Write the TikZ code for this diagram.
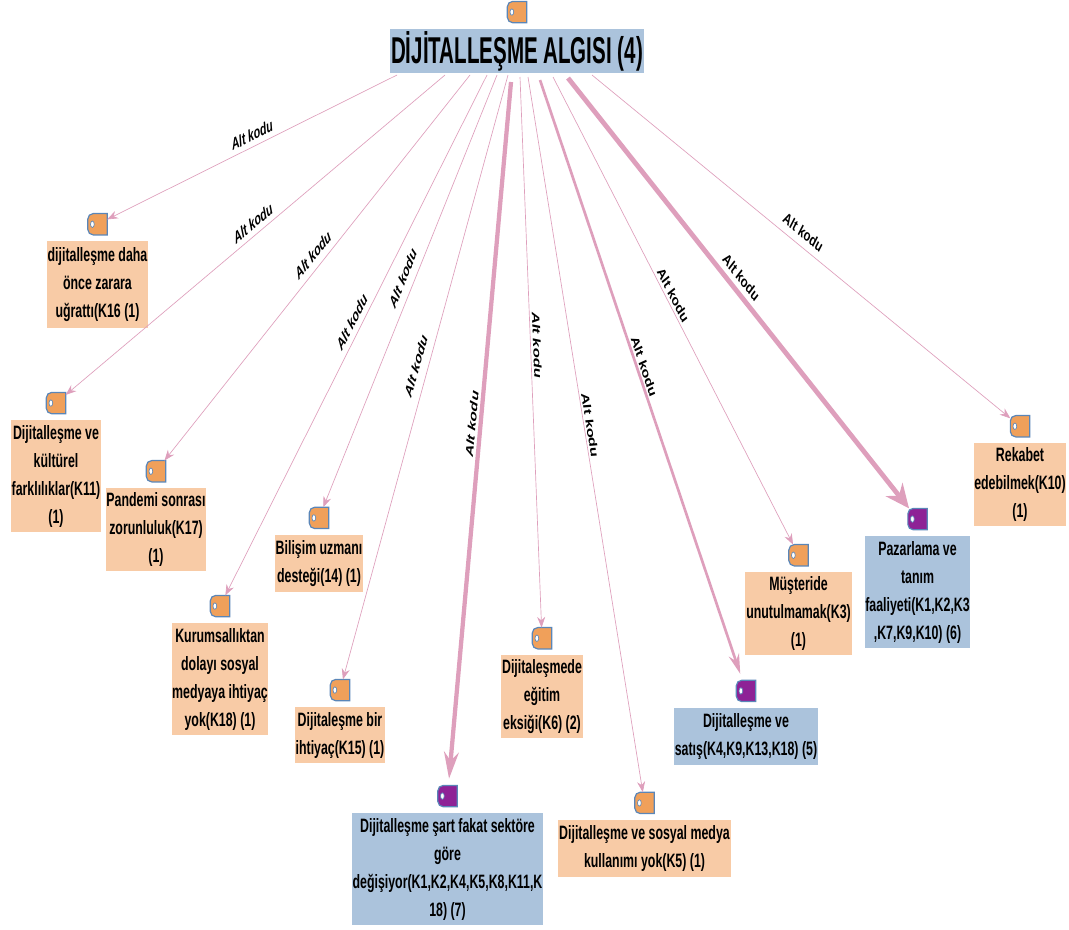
\documentclass[tikz,border=0pt]{standalone}
\usepackage{fontspec}
\setmainfont{Liberation Sans}[FakeStretch=0.64]
\newfontfamily\titlefont{Liberation Sans}[FakeStretch=0.55]
\newfontfamily\labelfont{Liberation Sans}
\usetikzlibrary{positioning, arrows.meta, calc}
\definecolor{peach}{HTML}{F8CBA6}
\definecolor{steel}{HTML}{ABC3DC}
\definecolor{linkpink}{HTML}{DE9FBC}
\definecolor{tagorange}{HTML}{F0A05A}
\definecolor{tagpurple}{HTML}{8E2296}
\definecolor{tagedge}{HTML}{5A86B8}
\tikzset{
	peachbox/.style={rectangle, fill=peach, inner sep=0pt, align=center, font=\fontsize{14.5}{21}\selectfont\bfseries},
	steelbox/.style={peachbox, fill=steel},
	tagnode/.style={rectangle, minimum width=12.5pt, minimum height=14pt, inner sep=0pt, outer sep=1pt},
	altlink/.style={draw=linkpink, line width=0.5pt, -{Stealth[length=8pt, width=6pt]}},
	midlink/.style={draw=linkpink, line width=2pt, shorten >=5pt, -{Stealth[length=15pt, width=8pt]}},
	widelink/.style={draw=linkpink, line width=3.2pt, shorten >=5pt, -{Stealth[length=20pt, width=11pt]}},
	biglink/.style={draw=linkpink, line width=3.6pt, -{Stealth[length=18pt, width=16pt]}},
	altlabel/.style={font=\labelfont\fontsize{8}{9}\selectfont\bfseries\itshape, inner sep=0pt, yscale=1.56},
}
\newcommand{\tagicon}[3]{
	\node[tagnode, above=4.5pt of #1] (#2) {};
	\filldraw[draw=tagedge, fill=#3, line width=0.9pt] (#2.north east) -- (#2.south east) [rounded corners=4pt] -- (#2.south west) -- (#2.north west) [sharp corners] -- cycle;
	\filldraw[draw=tagedge, fill=white, line width=0.5pt] ($(#2.west)+(3.4pt,0)$) ellipse (1.4pt and 2.4pt);
}
\begin{document}
\begin{tikzpicture}[x=0.75pt, y=0.75pt]
	\useasboundingbox (0,0) rectangle (1069,-929);
	
	\node[steelbox, minimum width=190.5pt, minimum height=33pt, font=\titlefont\fontsize{28}{30}\selectfont\bfseries] (root) at (517,-51) {DİJİTALLEŞME ALGISI (4)};
	
	\node[peachbox, minimum width=76pt, minimum height=65pt] (k16) at (97.5,-284.5) {dijitalleşme daha\\önce zarara\\uğrattı(K16 (1)};
	\node[peachbox, minimum width=67.5pt, minimum height=84pt] (k11) at (56,-476) {Dijitalleşme ve\\kültürel\\farklılıklar(K11)\\(1)};
	\node[peachbox, minimum width=75pt, minimum height=62pt] (k17) at (156,-529.5) {Pandemi sonrası\\zorunluluk(K17)\\(1)};
	\node[peachbox, minimum width=72pt, minimum height=84pt] (k18) at (220,-679) {Kurumsallıktan\\dolayı sosyal\\medyaya ihtiyaç\\yok(K18) (1)};
	\node[peachbox, minimum width=66pt, minimum height=43pt] (k14) at (319,-563.5) {Bilişim uzmanı\\desteği(14) (1)};
	\node[peachbox, minimum width=67.5pt, minimum height=42pt] (k15) at (340,-735) {Dijitaleşme bir\\ihtiyaç(K15) (1)};
	\node[peachbox, minimum width=61.5pt, minimum height=62pt] (k6) at (542,-696.5) {Dijitaleşmede\\eğitim\\eksiği(K6) (2)};
	\node[steelbox, minimum width=143pt, minimum height=84pt] (sektor) at (447.5,-869) {Dijitalleşme şart fakat sektöre\\göre\\değişiyor(K1,K2,K4,K5,K8,K11,K\\18) (7)};
	\node[peachbox, minimum width=130pt, minimum height=43pt] (k5) at (644.5,-848.5) {Dijitalleşme ve sosyal medya\\kullanımı yok(K5) (1)};
	\node[peachbox, minimum width=80pt, minimum height=62pt] (k3) at (798.5,-613.5) {Müşteride\\unutulmamak(K3)\\(1)};
	\node[steelbox, minimum width=108pt, minimum height=43pt] (satis) at (746,-736.5) {Dijitalleşme ve\\satış(K4,K9,K13,K18) (5)};
	\node[steelbox, minimum width=79pt, minimum height=84pt] (pazar) at (917.5,-592) {Pazarlama ve\\tanım\\faaliyeti(K1,K2,K3\\,K7,K9,K10) (6)};
	\node[peachbox, minimum width=69pt, minimum height=62pt] (k10) at (1020,-484.5) {Rekabet\\edebilmek(K10)\\(1)};
	
	\tagicon{root}{tag-root}{tagorange}
	\tagicon{k16}{tag-k16}{tagorange}
	\tagicon{k11}{tag-k11}{tagorange}
	\tagicon{k17}{tag-k17}{tagorange}
	\tagicon{k18}{tag-k18}{tagorange}
	\tagicon{k14}{tag-k14}{tagorange}
	\tagicon{k15}{tag-k15}{tagorange}
	\tagicon{k6}{tag-k6}{tagorange}
	\tagicon{sektor}{tag-sektor}{tagpurple}
	\tagicon{k5}{tag-k5}{tagorange}
	\tagicon{k3}{tag-k3}{tagorange}
	\tagicon{satis}{tag-satis}{tagpurple}
	\tagicon{pazar}{tag-pazar}{tagpurple}
	\tagicon{k10}{tag-k10}{tagorange}
	
	% start points under the title
	\foreach \sx/\sy/\sname in {397/75/s1, 445/75/s2, 470/75/s3, 487/75/s4, 497/75/s5, 508/75/s6, 511/82/s7, 520/77/s8, 528/77/s9, 540/80/s10, 553/77/s11, 568/78/s12, 592/75/s13}
		\coordinate (\sname) at (\sx,-\sy);
	
	\draw[altlink] (s1) -- (tag-k16);
	\draw[altlink] (s2) -- (tag-k11);
	\draw[altlink] (s3) -- (tag-k17);
	\draw[altlink] (s4) -- (tag-k18);
	\draw[altlink] (s5) -- (tag-k14);
	\draw[altlink] (s6) -- (tag-k15);
	\draw[widelink] (s7) -- (tag-sektor);
	\draw[altlink] (s8) -- (tag-k6);
	\draw[altlink] (s9) -- (tag-k5);
	\draw[midlink] (s10) -- (tag-satis);
	\draw[altlink] (s11) -- (tag-k3);
	\draw[biglink] (s12) -- (tag-pazar);
	\draw[altlink] (s13) -- (tag-k10);
	
	\node[altlabel, rotate=17.7] (l1) at (252,-135) {Alt kodu};
	\node[altlabel, rotate=28.4] (l2) at (253,-223) {Alt kodu};
	\node[altlabel, rotate=38.8] (l3) at (313,-255) {Alt kodu};
	\node[altlabel, rotate=52] (l4) at (352,-322) {Alt kodu};
	\node[altlabel, rotate=58.5] (l5) at (403,-278) {Alt kodu};
	\node[altlabel, rotate=66.8] (l6) at (416,-366) {Alt kodu};
	\node[altlabel, rotate=82.2] (l7) at (472,-424) {Alt kodu};
	\node[altlabel, rotate=-86.6] (l8) at (537,-345) {Alt kodu};
	\node[altlabel, rotate=-76.2] (l9) at (590,-425) {Alt kodu};
	\node[altlabel, rotate=-62.5] (l10) at (644,-366) {Alt kodu};
	\node[altlabel, rotate=-52] (l11) at (673,-295) {Alt kodu};
	\node[altlabel, rotate=-39.4] (l12) at (741,-277) {Alt kodu};
	\node[altlabel, rotate=-27.7] (l13) at (803,-232) {Alt kodu};
	
\end{tikzpicture}
\end{document}
